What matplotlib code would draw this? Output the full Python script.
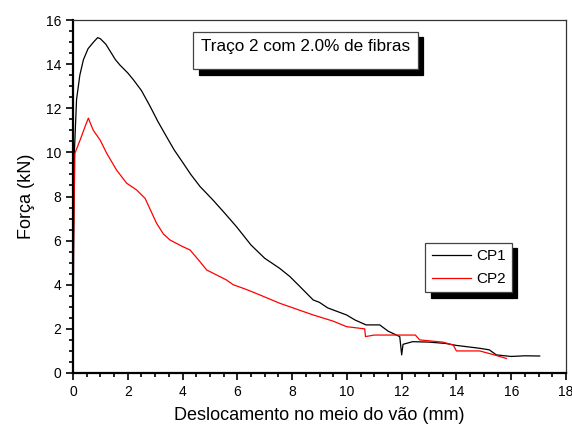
import matplotlib
matplotlib.use('Agg')
import matplotlib.pyplot as plt
from matplotlib.ticker import MultipleLocator

plt.rcParams['font.family'] = ['Liberation Sans', 'DejaVu Sans']

# CP1 curve (black)
cp1_x = [0.0, 0.02, 0.05, 0.13, 0.25, 0.38, 0.55, 0.75, 0.9, 1.0, 1.2, 1.35,
         1.55, 1.72, 2.0, 2.2, 2.5, 2.81, 3.1, 3.42, 3.7, 4.03, 4.3, 4.64,
         5.11, 5.5, 5.97, 6.5, 7.0, 7.55, 7.92, 8.3, 8.77, 9.0, 9.3, 9.99,
         10.3, 10.7, 11.2, 11.5, 11.93, 12.0, 12.05, 12.4, 13.0, 13.6, 14.0,
         14.85, 15.2, 15.46, 16.0, 16.5, 17.04]
cp1_y = [0.0, 5.0, 10.0, 12.4, 13.5, 14.2, 14.7, 15.0, 15.2, 15.15, 14.9, 14.6,
         14.2, 13.95, 13.6, 13.3, 12.8, 12.1, 11.4, 10.7, 10.1, 9.5, 9.0, 8.45,
         7.84, 7.3, 6.63, 5.8, 5.2, 4.74, 4.37, 3.9, 3.31, 3.2, 2.95, 2.63,
         2.4, 2.18, 2.18, 1.9, 1.65, 0.82, 1.3, 1.42, 1.4, 1.34, 1.25,
         1.12, 1.05, 0.82, 0.75, 0.78, 0.77]

# CP2 curve (red)
cp2_x = [0.0, 0.02, 0.07, 0.26, 0.45, 0.56, 0.74, 0.99, 1.23, 1.59, 1.96, 2.32,
         2.63, 3.05, 3.3, 3.54, 4.0, 4.27, 4.6, 4.88, 5.6, 5.85, 6.3, 6.82,
         7.55, 7.92, 8.77, 9.5, 9.99, 10.65, 10.68, 11.0, 12.5, 12.66, 13.5,
         13.88, 14.0, 14.85, 15.3, 15.82]
cp2_y = [0.3, 6.0, 9.96, 10.56, 11.2, 11.55, 11.0, 10.56, 9.96, 9.2, 8.6, 8.3,
         7.92, 6.79, 6.3, 6.03, 5.73, 5.58, 5.1, 4.67, 4.22, 4.0, 3.8, 3.54,
         3.16, 3.0, 2.63, 2.35, 2.1, 2.0, 1.65, 1.72, 1.72, 1.5, 1.4,
         1.27, 1.0, 1.0, 0.85, 0.66]

title_text = 'Traço 2 com 2.0% de fibras'

shadow = {'ox': 4, 'oy': -4, 'color': 'black', 'alpha': 1}

fig = plt.figure(figsize=(5.72, 4.30), dpi=100)
ax = fig.add_axes([73 / 572, 1 - 373 / 430, 493 / 572, 353 / 430])

ax.plot(cp1_x, cp1_y, color='black', lw=0.9, label='CP1')
ax.plot(cp2_x, cp2_y, color='red', lw=0.9, label='CP2')

ax.set_xlim(0, 18)
ax.set_ylim(0, 16)
ax.xaxis.set_major_locator(MultipleLocator(2))
ax.xaxis.set_minor_locator(MultipleLocator(0.5))
ax.yaxis.set_major_locator(MultipleLocator(2))
ax.yaxis.set_minor_locator(MultipleLocator(0.5))
ax.tick_params(which='both', direction='out', top=False, right=False,
               labelsize=10, width=1.2)
ax.tick_params(which='major', length=5)
ax.tick_params(which='minor', length=3)
for s in ('left', 'bottom'):
    ax.spines[s].set_linewidth(1.6)
for s in ('top', 'right'):
    ax.spines[s].set_linewidth(0.9)
    ax.spines[s].set_color('#333333')

ax.set_xlabel('Deslocamento no meio do vão (mm)', fontsize=13, labelpad=6)
ax.set_ylabel('Força (kN)', fontsize=13, labelpad=8)

# title box with black drop shadow (an empty legend carrying only a title)
tbox = ax.legend(handles=[], title=title_text, loc='center',
                 bbox_to_anchor=(0.472, 0.914), borderaxespad=0, borderpad=0.55,
                 fancybox=False, title_fontsize=12.3, shadow=shadow, framealpha=1)
tbox.get_frame().set_edgecolor('#444444')
tbox.get_frame().set_linewidth(0.9)
ax.add_artist(tbox)

leg = ax.legend(loc='upper left', bbox_to_anchor=(0.715, 0.369), borderaxespad=0,
                fancybox=False, fontsize=11, handlelength=2.6, handletextpad=0.3,
                labelspacing=0.6, shadow=shadow, framealpha=1)
leg.get_frame().set_edgecolor('#444444')
leg.get_frame().set_linewidth(0.9)

fig.savefig('out.png', dpi=100)
